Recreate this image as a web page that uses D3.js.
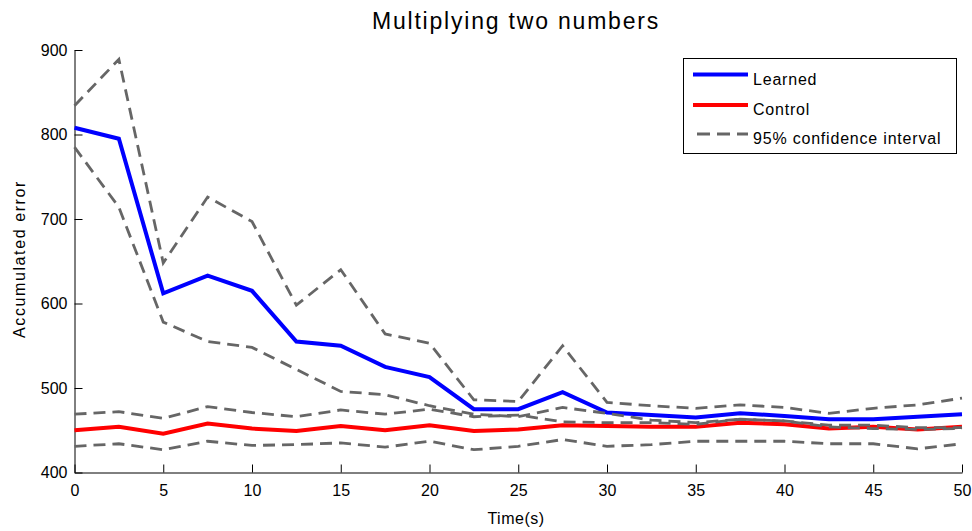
<!DOCTYPE html>
<html>
<head>
<meta charset="utf-8">
<script src="https://cdnjs.cloudflare.com/ajax/libs/d3/7.8.5/d3.min.js"></script>
<style>
  body { margin: 0; background: #fff; }
  text { font-family: "Liberation Sans", Arial, sans-serif; fill: #000; }
</style>
</head>
<body>
<svg width="972" height="531"></svg>
<script>
var times = [0, 2.5, 5, 7.5, 10, 12.5, 15, 17.5, 20, 22.5, 25, 27.5, 30, 32.5, 35, 37.5, 40, 42.5, 45, 47.5, 50];

var learned      = [808, 795, 612, 633, 615, 555, 550, 525, 513, 475, 475, 495, 471, 468, 465, 470, 467, 463, 463, 466, 469];
var learnedUpper = [834, 889, 648, 726, 697, 598, 640, 564, 553, 486, 484, 550, 483, 479, 476, 480, 477, 470, 476, 480, 488];
var learnedLower = [785, 714, 578, 555, 548, 522, 496, 492, 479, 469, 466, 477, 470, 462, 459, 463, 461, 456, 456, 453, 453];

var control      = [450, 454, 446, 458, 452, 449, 455, 450, 456, 449, 451, 456, 455, 454, 454, 459, 457, 452, 454, 451, 454];
var controlUpper = [469, 472, 464, 478, 471, 466, 474, 469, 475, 466, 468, 460, 459, 459, 457, 463, 461, 454, 452, 451, 452];
var controlLower = [431, 434, 427, 437, 432, 433, 435, 430, 437, 427, 431, 439, 431, 433, 437, 437, 437, 434, 434, 428, 434];

var xTicks = [0, 5, 10, 15, 20, 25, 30, 35, 40, 45, 50];
var yTicks = [400, 500, 600, 700, 800, 900];

var legendNames = ["Learned", "Control", "95% confidence interval"];

var margin = {top: 50, right: 10, bottom: 59, left: 74},
    width = 888,
    height = 422;

var svg = d3.select("svg");
var g = svg.append("g")
    .attr("transform", "translate(" + margin.left + "," + margin.top + ")");

var x = d3.scaleLinear().domain([0, 50]).range([0.5, width]);
var y = d3.scaleLinear().domain([400, 900]).range([height + 0.5, 0]);

// axes, ticks point inward like matlab
var xAxis = g.append("g")
    .attr("transform", "translate(0," + (height + 0.5) + ")")
    .call(d3.axisBottom(x).tickValues(xTicks).tickSizeInner(-8).tickSizeOuter(0).tickPadding(12));

var yAxis = g.append("g")
    .attr("transform", "translate(0.5,0)")
    .call(d3.axisLeft(y).tickValues(yTicks).tickSizeInner(-8).tickSizeOuter(0).tickPadding(7));

svg.selectAll(".tick text")
    .attr("font-size", "16px")
    .attr("font-family", "'Liberation Sans', Arial, sans-serif")
    .attr("fill", "#000");
svg.selectAll(".domain, .tick line").attr("stroke", "#000");

var line = d3.line()
    .x(function(d, i) { return x(times[i]); })
    .y(function(d) { return y(d); });

// main series
g.append("path").datum(learned)
    .attr("d", line).attr("fill", "none")
    .attr("stroke", "#0000ff").attr("stroke-width", 4);

g.append("path").datum(control)
    .attr("d", line).attr("fill", "none")
    .attr("stroke", "#ff0000").attr("stroke-width", 4);

// confidence intervals
var bounds = [learnedUpper, learnedLower, controlUpper, controlLower];
g.selectAll(".ci")
    .data(bounds)
    .enter().append("path")
    .attr("class", "ci")
    .attr("d", line)
    .attr("fill", "none")
    .attr("stroke", "#666")
    .attr("stroke-width", 2.8)
    .attr("stroke-dasharray", "12,7");

// title and labels
svg.append("text")
    .attr("x", 516).attr("y", 29)
    .attr("text-anchor", "middle")
    .attr("font-size", "23px")
    .attr("letter-spacing", "1.8px")
    .text("Multiplying two numbers");

svg.append("text")
    .attr("x", 516).attr("y", 524)
    .attr("text-anchor", "middle")
    .attr("font-size", "16px")
    .attr("letter-spacing", "0.5px")
    .text("Time(s)");

svg.append("text")
    .attr("transform", "translate(25,259) rotate(-90)")
    .attr("text-anchor", "middle")
    .attr("font-size", "16px")
    .attr("letter-spacing", "1.6px")
    .text("Accumulated error");

// legend
var legend = svg.append("g").attr("transform", "translate(683,58)");
legend.append("rect")
    .attr("x", 0.5).attr("y", 0.5)
    .attr("width", 273).attr("height", 95)
    .attr("fill", "#fff").attr("stroke", "#000");

var legendColors = ["#0000ff", "#ff0000", "#666"];
var legendRows = legend.selectAll(".row")
    .data(legendNames)
    .enter().append("g")
    .attr("class", "row")
    .attr("transform", function(d, i) { return "translate(0," + [16.5, 47, 76][i] + ")"; });

legendRows.append("line")
    .attr("x1", function(d, i) { return i == 2 ? 14 : 10; })
    .attr("x2", 65)
    .attr("stroke", function(d, i) { return legendColors[i]; })
    .attr("stroke-width", function(d, i) { return i == 2 ? 3 : 4; })
    .attr("stroke-dasharray", function(d, i) { return i == 2 ? "13,7" : null; });

legendRows.append("text")
    .attr("x", 70).attr("y", 10)
    .attr("font-size", "16px")
    .attr("letter-spacing", "0.8px")
    .text(function(d) { return d; });
</script>
</body>
</html>
